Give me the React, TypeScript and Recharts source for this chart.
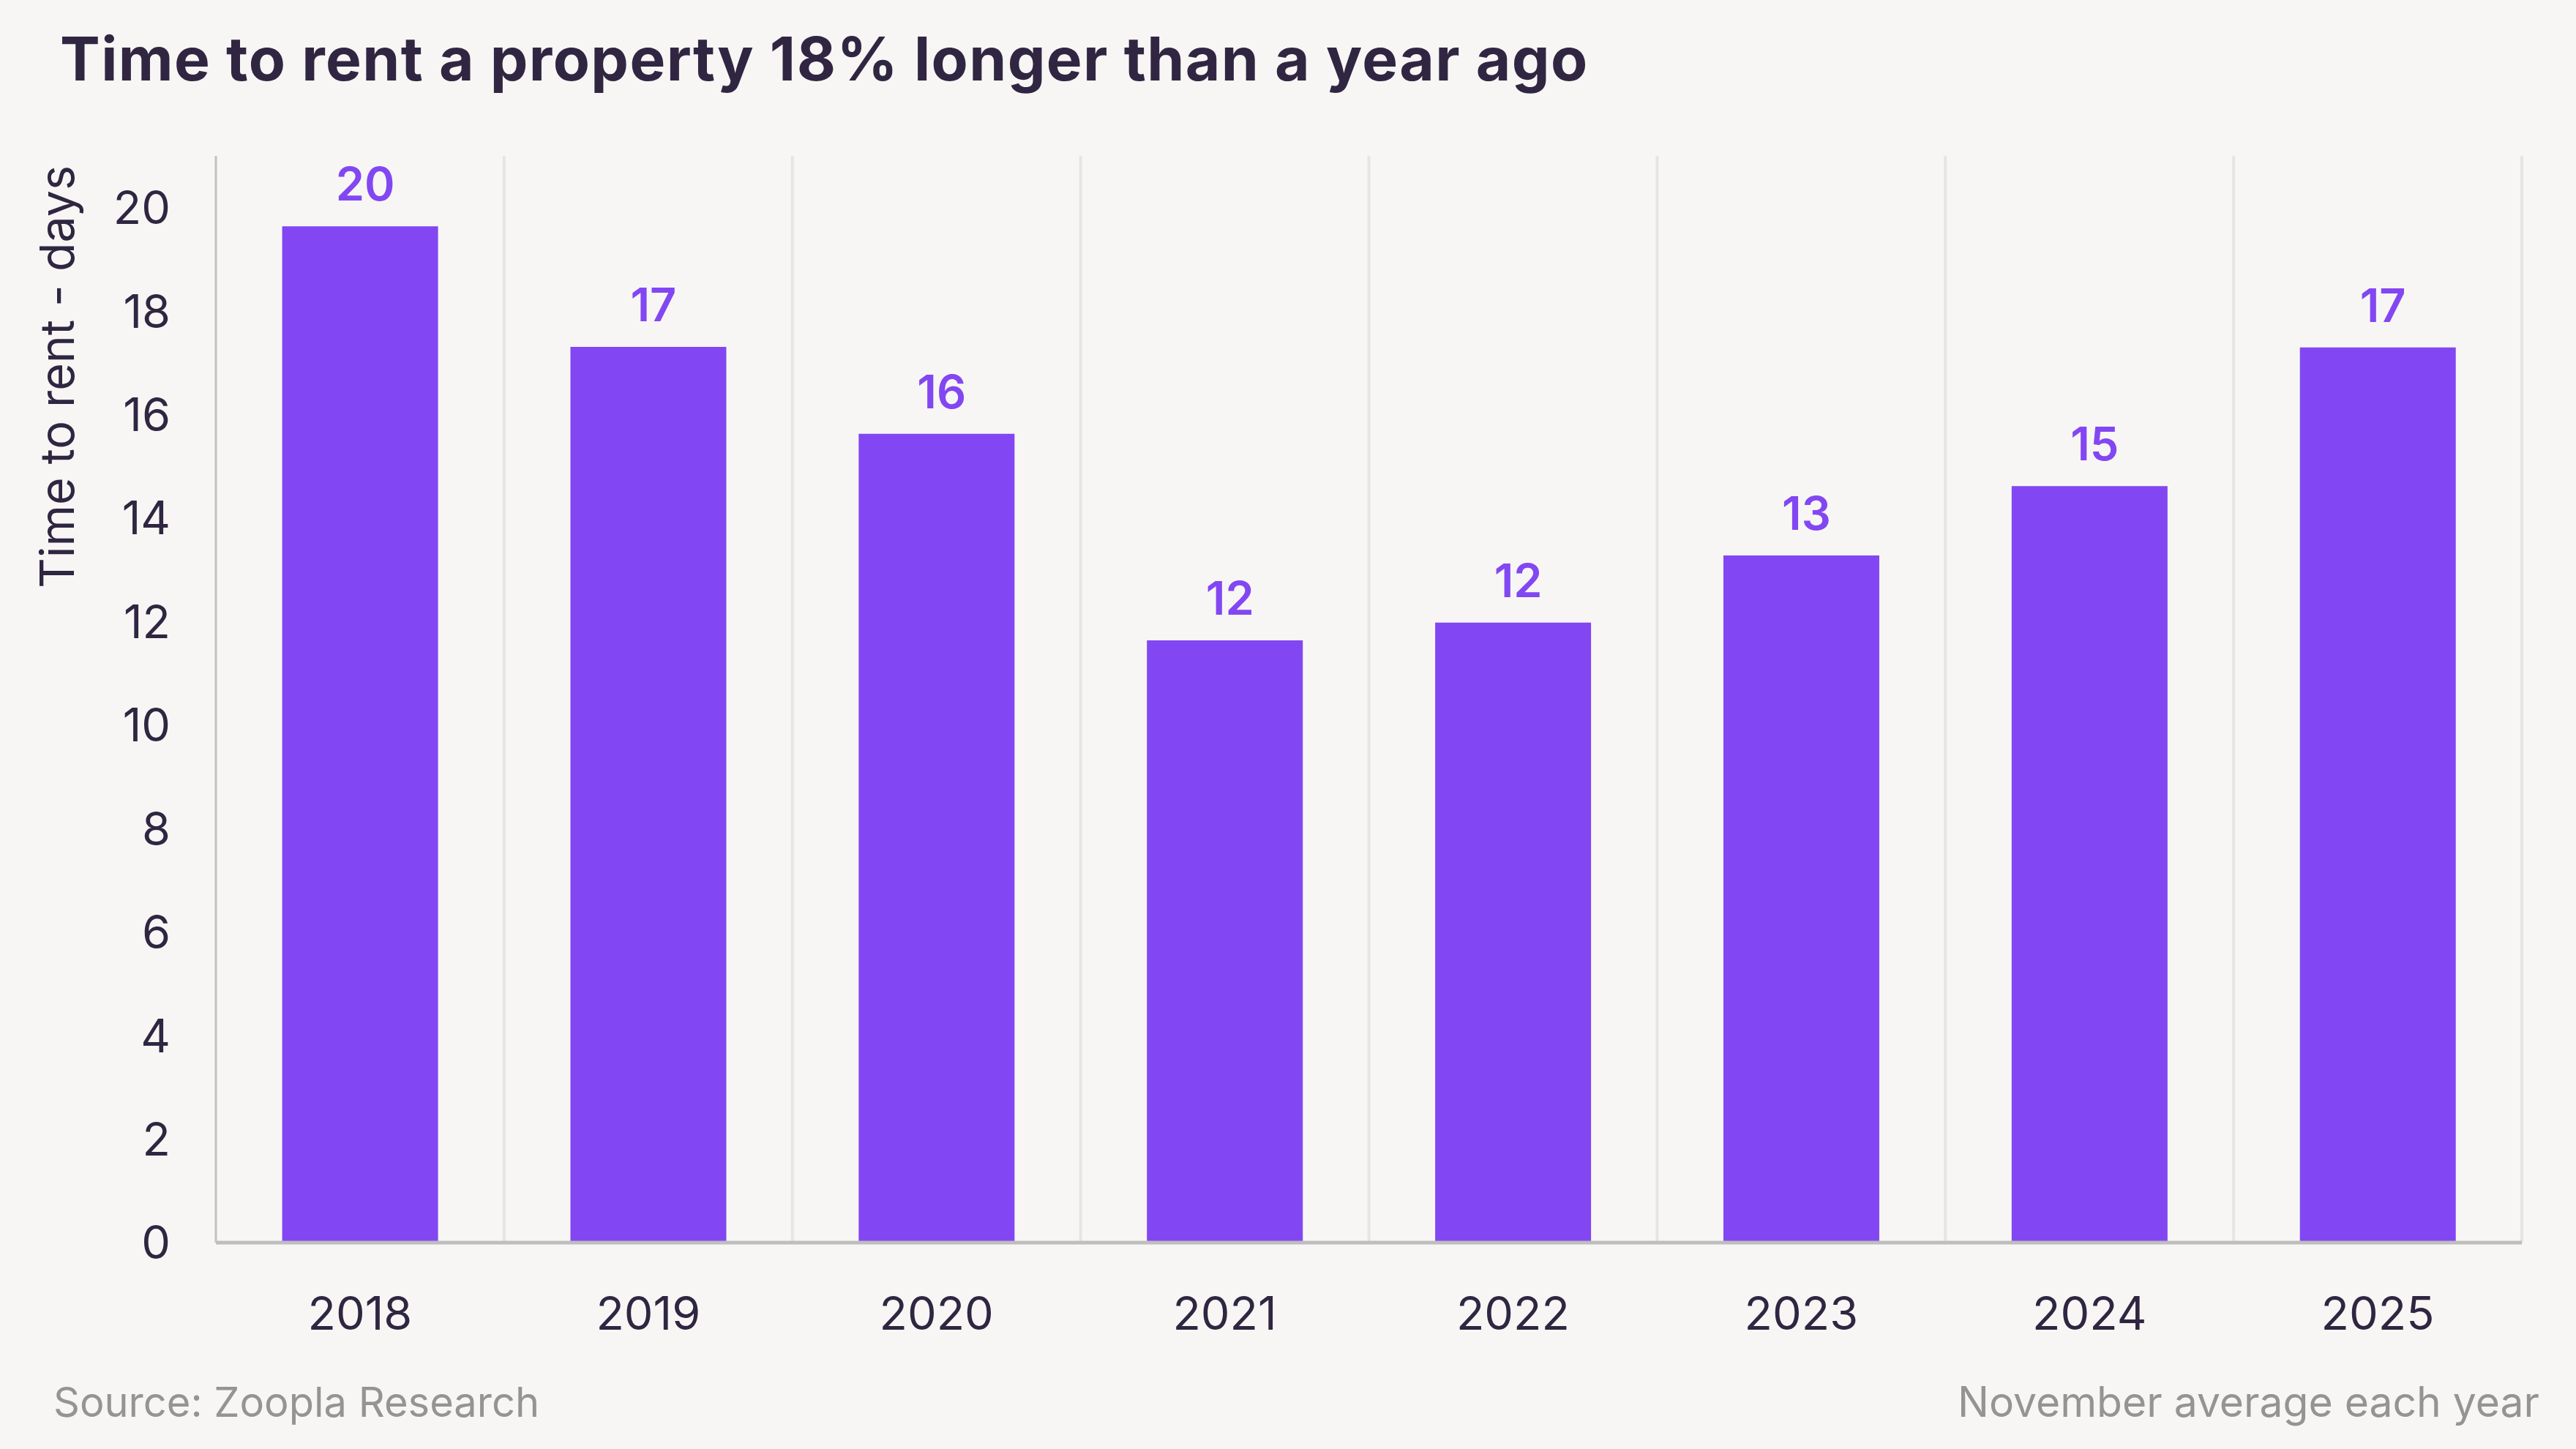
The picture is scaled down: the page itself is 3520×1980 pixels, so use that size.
import React from "react";
import { BarChart, Bar, XAxis, YAxis, CartesianGrid, LabelList } from "recharts";

const years = ["2018", "2019", "2020", "2021", "2022", "2023", "2024", "2025"];
const daysToRent = [19.64, 17.31, 15.63, 11.64, 11.98, 13.28, 14.62, 17.3];
const yTicks = [0, 2, 4, 6, 8, 10, 12, 14, 16, 18, 20];

const W = 3520;
const H = 1980;
const BG = "#f7f6f4";
const INK = "#2f2641";
const PURPLE = "#8247f2";
const GREY_TEXT = "#949494";
const FONT = "Inter, 'Noto Sans', sans-serif";

const data = years.map((y, i) => ({ year: y, days: daysToRent[i] }));

// vertical lines sit on the category boundaries, not the tick centres
const boundaryLines = ({ offset }: any) =>
  Array.from({ length: years.length + 1 }, (_, i) => offset.left + (i * offset.width) / years.length);

export default function App() {
  return (
    <div style={{ position: "absolute", left: 0, top: 0, width: W, height: H, background: BG, overflow: "hidden" }}>
      <BarChart
        width={W}
        height={H}
        data={data}
        margin={{ top: 213, right: 74, left: 0, bottom: 162 }}
        barCategoryGap="23%"
      >
        <CartesianGrid
          horizontal={false}
          stroke="#e6e5e3"
          strokeWidth={4}
          verticalCoordinatesGenerator={boundaryLines}
        />
        <XAxis
          dataKey="year"
          height={120}
          tickSize={0}
          tickMargin={74}
          axisLine={{ stroke: "#bebebe", strokeWidth: 5 }}
          tick={{ fill: INK, fontSize: 63, fontFamily: FONT }}
        />
        <YAxis
          width={295}
          domain={[0, 21]}
          ticks={yTicks}
          interval={0}
          tickSize={0}
          tickMargin={62}
          axisLine={{ stroke: "#c2c2c2", strokeWidth: 2.5 }}
          tick={{ fill: INK, fontSize: 63, fontFamily: FONT }}
        />
        <Bar dataKey="days" fill={PURPLE} isAnimationActive={false}>
          <LabelList
            dataKey="days"
            position="top"
            offset={35}
            dx={7}
            formatter={(v: any) => Math.round(Number(v))}
            style={{ fill: PURPLE, fontSize: 63, fontWeight: 600, fontFamily: FONT }}
          />
        </Bar>
      </BarChart>
      <svg width={W} height={H} style={{ position: "absolute", left: 0, top: 0, pointerEvents: "none" }}>
        <text x={82} y={110} fill="#312642" fontSize={82} fontWeight={700} letterSpacing={1.4} fontFamily={FONT}>
          Time to rent a property 18% longer than a year ago
        </text>
        <text
          x={101}
          y={226}
          transform="rotate(-90 101 226)"
          textAnchor="end"
          fill={INK}
          fontSize={64.5}
          fontFamily={FONT}
        >
          Time to rent - days
        </text>
        <text x={73} y={1936} fill={GREY_TEXT} fontSize={56} fontFamily={FONT}>
          Source: Zoopla Research
        </text>
        <text x={3470} y={1936} textAnchor="end" fill={GREY_TEXT} fontSize={57} fontFamily={FONT}>
          November average each year
        </text>
      </svg>
    </div>
  );
}
